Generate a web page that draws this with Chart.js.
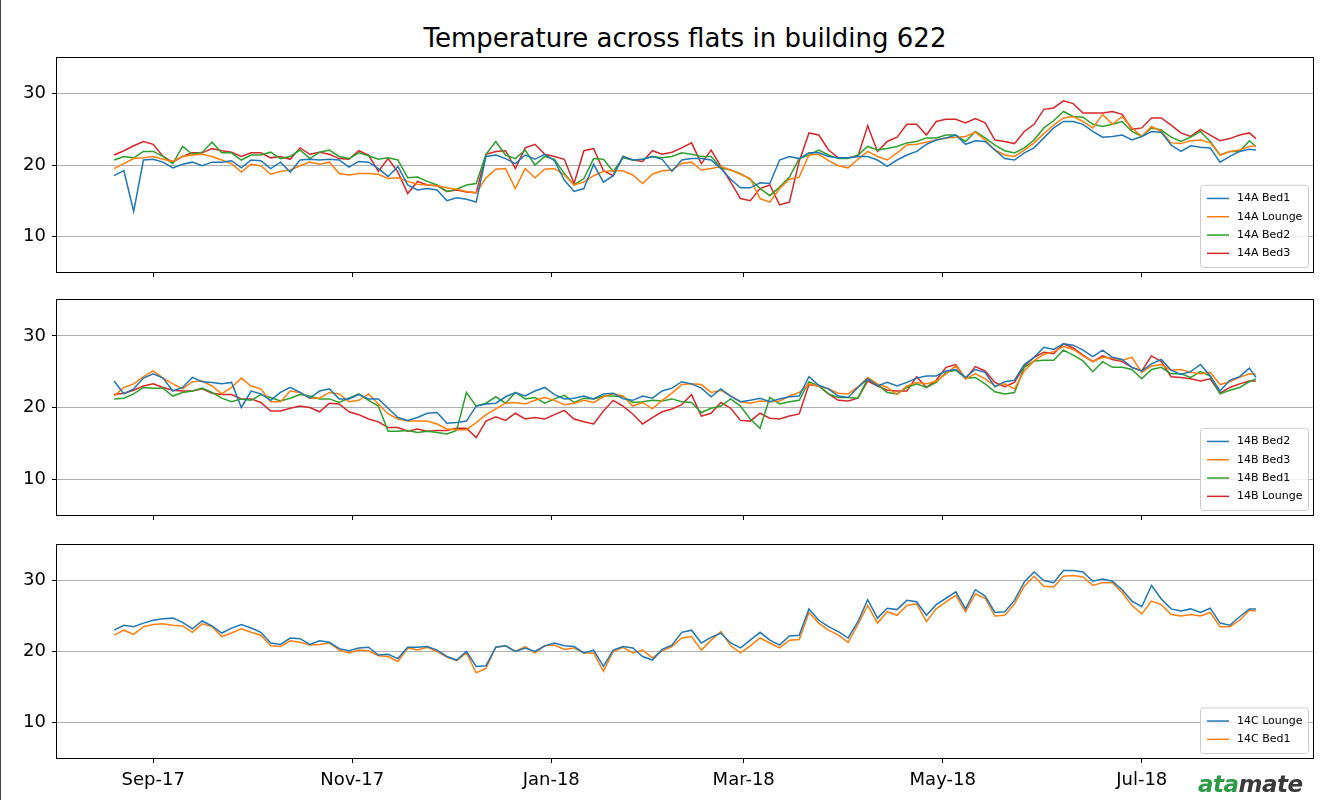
<!DOCTYPE html>
<html>
<head>
<meta charset="utf-8">
<script src="https://cdn.jsdelivr.net/npm/chart.js@4.4.0/dist/chart.umd.min.js"></script>
<style>
  body { margin: 0; background: #fff; }
  #wrap { position: relative; width: 1330px; height: 802px; background: #fff; overflow: hidden; font-family: "DejaVu Sans", sans-serif; }
  #wrap canvas { position: absolute; left: 0; }
  #edge { position: absolute; left: 0; top: 0; width: 1px; height: 800px; background: #444; }
  #title { position: absolute; left: 0; top: 23px; width: 1370px; text-align: center; font-size: 26px; line-height: 30px; color: #000; }
  #logo { position: absolute; left: 1198px; top: 771px; font-family: "DejaVu Sans", sans-serif; font-weight: bold; font-style: italic; font-size: 23px; letter-spacing: -0.5px; z-index: 5; }
  #logo .a { color: #2e9a45; }
  #logo .b { color: #3a3a3a; }
</style>
</head>
<body>
<div id="wrap">
  <div id="edge"></div>
  <div id="title">Temperature across flats in building 622</div>
  <canvas id="c1" width="1330" height="240" style="top:50px"></canvas>
  <canvas id="c2" width="1330" height="243" style="top:292px"></canvas>
  <canvas id="c3" width="1330" height="265" style="top:537px"></canvas>
  <div id="logo"><span class="a">ata</span><span class="b">mate</span></div>
</div>
<script>
// days since 2017-08-20
var days = [0,3,6,9,12,15,18,21,24,27,30,33,36,39,42,45,48,51,54,57,60,63,66,69,72,75,78,81,84,87,
  90,93,96,99,102,105,108,111,114,117,120,123,126,129,132,135,138,141,144,147,150,153,156,159,162,165,168,171,174,
  177,180,183,186,189,192,195,198,201,204,207,210,213,216,219,222,225,228,231,234,237,240,243,246,249,252,255,258,261,264,
  267,270,273,276,279,282,285,288,291,294,297,300,303,306,309,312,315,318,321,324,327,330,333,336,339,342,345,348,350];

// 1st of the month positions for the x axis
var tickDays = [12, 73, 134, 193, 254, 315];
var tickLabels = ['Sep-17', 'Nov-17', 'Jan-18', 'Mar-18', 'May-18', 'Jul-18'];
var yTicks = [10, 20, 30];

// flat 14A
var a14Bed1 = [18.5,19.2,13.5,20.7,20.8,20.4,19.6,20.1,20.4,19.9,20.4,20.4,20.6,19.6,20.7,20.6,19.5,20.4,19.0,20.7,20.8,20.7,20.8,20.7,19.7,20.5,20.4,19.5,18.4,19.8,
  17.2,16.5,16.7,16.5,15.0,15.4,15.2,14.8,21.2,21.4,20.9,20.2,21.4,20.8,21.5,20.6,17.9,16.3,16.7,20.1,17.6,18.5,21.2,20.7,20.8,21.2,20.8,19.1,20.7,
  20.9,20.9,20.7,19.5,18.0,16.8,16.8,17.5,17.4,20.7,21.2,20.9,21.7,21.7,21.2,21.0,21.0,21.2,21.2,20.7,19.8,20.7,21.4,21.9,22.9,23.5,23.8,24.2,22.9,23.4,
  23.3,22.1,20.9,20.7,21.7,22.4,23.8,25.2,26.1,26.1,25.7,24.7,23.9,24.0,24.2,23.5,24.0,24.7,24.6,22.8,21.9,22.7,22.5,22.4,20.4,21.2,21.9,22.2,22.1];
var a14Lounge = [19.5,20.2,20.9,21.0,21.2,20.8,20.5,21.2,21.4,21.5,21.2,20.7,20.2,19.0,20.1,19.9,18.7,19.1,19.3,19.9,20.4,20.1,20.4,18.8,18.6,18.8,18.8,18.7,18.1,18.2,
  17.7,17.3,17.2,17.1,16.8,16.6,16.3,16.1,18.2,19.4,19.5,16.7,19.5,18.2,19.4,19.5,18.6,17.2,17.6,18.5,19.1,19.2,19.2,18.6,17.4,18.7,19.2,19.3,20.2,
  20.4,19.3,19.5,19.8,19.3,18.7,18.1,15.3,14.8,16.7,18.0,18.3,21.4,21.5,20.6,19.9,19.6,20.8,21.9,21.2,20.7,21.7,22.8,22.9,23.2,23.5,23.8,23.9,24.0,24.6,
  23.5,22.1,21.4,21.2,22.1,23.1,24.4,25.6,26.6,26.8,26.1,25.2,27.1,25.7,26.8,25.2,24.0,25.4,24.7,23.1,23.0,23.4,23.5,23.1,21.4,21.9,22.1,22.6,22.7];
var a14Bed2 = [20.7,21.2,21.0,21.9,21.9,21.2,20.2,22.6,21.5,21.8,23.2,21.7,21.7,20.7,21.4,21.4,21.8,20.9,21.2,22.1,20.9,21.8,22.1,21.2,20.9,21.7,21.3,20.8,21.0,20.7,
  18.2,18.3,17.7,17.2,16.3,16.6,17.2,17.4,21.5,23.3,21.4,20.9,22.1,20.0,21.2,20.8,18.8,17.2,18.1,20.9,20.8,19.1,21.0,20.7,20.8,21.2,21.0,21.2,21.7,
  21.5,21.2,21.2,19.6,19.3,18.8,18.0,16.7,15.7,16.9,18.3,20.9,21.4,22.1,21.4,20.9,20.9,21.4,22.6,22.1,22.3,22.6,23.1,23.3,23.8,23.8,24.2,24.2,23.3,24.7,
  23.8,22.8,22.0,21.7,22.4,23.5,25.2,26.2,27.5,26.8,26.7,25.7,25.4,25.7,26.1,24.7,24.0,25.2,24.9,23.9,23.3,23.9,24.7,23.3,21.4,21.9,21.9,23.4,22.6];
var a14Bed3 = [21.4,22.0,22.7,23.3,22.9,21.2,20.4,21.2,21.7,21.7,22.3,22.0,21.8,21.2,21.7,21.7,21.0,21.2,20.8,22.4,21.5,21.8,21.5,20.9,20.8,22.0,21.4,19.1,20.9,19.0,
  16.0,17.7,17.2,17.1,16.3,16.5,16.2,16.1,21.5,21.9,22.0,19.5,22.4,22.9,21.5,21.2,20.8,17.4,22.0,22.3,19.2,18.5,21.2,20.7,20.5,22.0,21.5,21.8,22.4,
  23.1,20.2,22.1,19.8,17.6,15.3,15.0,16.7,17.2,14.4,14.8,20.5,24.5,24.2,22.1,21.0,21.0,21.2,25.5,21.9,23.3,23.9,25.7,25.7,24.2,26.1,26.4,26.4,25.9,26.5,
  25.9,23.5,23.3,23.0,24.7,25.7,27.8,28.0,29.0,28.6,27.3,27.3,27.3,27.5,27.1,25.0,25.2,26.6,26.6,25.6,24.5,24.0,25.0,24.2,23.4,23.7,24.2,24.5,23.7];

// flat 14B
var b14Bed2 = [23.7,21.9,22.6,24.1,24.7,24.1,22.3,22.8,24.2,23.6,23.5,23.3,23.5,20.0,22.3,21.9,21.0,22.1,22.8,22.1,21.3,22.3,22.6,21.2,21.2,21.8,21.2,21.2,19.9,18.6,
  18.2,18.6,19.2,19.3,17.8,17.9,18.1,20.2,20.5,20.6,21.5,22.1,21.6,22.3,22.8,21.8,21.2,21.3,21.6,21.2,21.9,22.0,21.2,21.0,21.6,21.3,22.3,22.7,23.6,
  23.3,22.7,21.5,22.6,21.6,20.8,21.0,21.3,20.8,21.2,21.5,21.6,24.3,23.1,22.6,21.6,21.4,22.8,24.0,23.0,23.5,23.0,23.5,24.1,24.4,24.4,25.1,25.3,24.2,25.3,
  24.9,22.9,23.6,23.8,26.0,27.0,28.4,28.1,28.9,28.7,28.0,27.1,28.0,27.0,26.7,25.6,25.1,26.1,26.7,25.2,24.6,25.0,26.0,24.4,22.3,23.8,24.3,25.5,24.2];
var b14Bed3 = [21.6,22.8,23.3,24.3,25.1,24.1,23.3,22.6,23.6,23.7,23.0,21.9,22.8,24.1,23.0,22.6,20.8,20.8,22.3,22.1,21.3,21.3,22.1,21.9,20.8,21.0,21.9,20.5,19.1,18.4,
  18.1,18.1,18.1,17.7,17.0,16.9,16.9,17.9,19.0,19.8,20.6,20.7,20.5,21.0,21.4,21.0,20.4,20.6,21.0,20.7,21.5,21.9,21.6,20.2,20.7,19.8,21.0,22.0,23.2,
  23.3,23.2,22.1,22.4,21.6,20.8,20.6,20.9,20.8,20.9,21.6,22.1,23.3,23.0,22.6,22.0,21.9,22.9,24.2,23.3,22.8,21.8,23.0,23.5,23.3,23.7,24.7,25.8,24.0,24.7,
  24.0,23.0,23.3,22.6,25.1,26.5,27.4,27.8,28.5,28.1,27.2,26.4,27.0,26.9,26.6,27.0,24.9,25.8,26.0,25.2,25.3,24.9,24.7,24.9,23.2,23.6,24.2,24.7,24.6];
var b14Bed1 = [21.2,21.3,21.9,22.8,22.7,22.7,21.6,22.1,22.3,22.7,22.1,21.3,20.8,21.2,21.0,21.8,21.4,20.9,21.3,21.8,21.6,21.2,21.2,20.7,21.3,21.9,21.0,20.2,16.7,16.7,
  16.8,16.5,16.7,16.5,16.3,16.8,22.1,20.2,20.6,21.5,20.6,22.1,21.2,21.4,20.6,21.2,21.7,20.7,21.3,21.2,21.6,21.6,21.5,20.7,20.8,21.0,20.9,21.2,20.8,
  20.7,19.3,19.9,20.2,21.2,20.2,18.4,17.1,21.4,20.5,20.8,21.0,23.6,23.0,21.9,21.4,21.4,21.3,24.0,23.2,22.1,21.9,22.8,23.3,22.8,23.5,24.9,25.2,24.1,24.2,
  23.3,22.2,21.9,22.1,25.6,26.5,26.6,26.6,28.0,27.3,26.5,25.0,26.4,25.6,25.6,25.3,24.0,25.3,25.6,24.7,24.7,24.2,25.0,24.4,21.9,22.4,22.8,23.6,24.0];
var b14Lounge = [21.8,22.0,22.4,23.0,23.3,22.8,22.4,22.3,22.3,22.6,22.0,21.8,21.8,21.2,21.2,20.7,19.5,19.5,19.9,20.2,20.0,19.4,20.6,20.5,19.4,19.0,18.4,18.0,17.2,17.2,
  16.7,17.0,16.7,16.8,16.8,17.1,17.1,15.8,18.1,18.7,18.2,19.2,18.4,18.6,18.4,19.0,19.6,18.4,18.0,17.7,19.5,21.0,20.2,19.1,17.7,18.6,19.4,19.8,20.4,
  21.8,18.8,19.2,20.7,19.9,18.2,18.1,19.2,18.5,18.4,18.8,19.1,23.2,23.0,21.9,21.0,20.9,21.3,23.7,23.0,22.4,22.3,22.3,24.3,22.8,23.8,25.6,26.0,24.0,25.7,
  25.1,23.5,22.9,23.5,25.8,27.0,27.7,27.5,28.9,28.3,27.3,26.4,27.2,26.7,26.4,25.6,25.1,27.2,26.4,24.3,24.2,24.0,23.7,24.0,22.0,22.8,23.3,23.7,23.7];

// flat 14C
var c14Lounge = [23.0,23.7,23.5,24.0,24.4,24.6,24.7,24.1,23.2,24.3,23.6,22.6,23.3,23.8,23.3,22.7,21.2,21.0,21.9,21.8,21.0,21.5,21.3,20.4,20.1,20.5,20.6,19.5,19.6,19.0,
  20.6,20.6,20.7,20.2,19.3,18.8,20.0,17.9,18.0,20.6,20.8,20.0,20.5,20.0,20.8,21.2,20.8,20.7,19.8,20.2,17.9,20.2,20.7,20.5,19.3,18.8,20.3,20.9,22.7,
  23.0,21.2,22.0,22.6,21.2,20.5,21.6,22.7,21.6,20.9,22.2,22.3,26.0,24.4,23.5,22.8,21.9,24.2,27.3,24.7,26.1,25.9,27.2,27.0,25.1,26.6,27.5,28.4,26.0,28.7,
  27.8,25.5,25.6,27.2,29.8,31.2,30.0,29.7,31.4,31.4,31.2,29.9,30.2,29.9,28.7,27.1,26.3,29.3,27.4,26.0,25.7,26.0,25.5,26.1,24.0,23.7,24.9,26.0,26.0];
var c14Bed1 = [22.3,23.0,22.4,23.5,23.8,23.9,23.7,23.6,22.7,23.9,23.5,22.1,22.6,23.2,22.7,22.3,20.8,20.7,21.5,21.3,20.9,21.0,21.2,20.2,19.8,20.2,20.1,19.4,19.3,18.6,
  20.5,20.2,20.6,20.0,19.2,18.7,19.8,17.0,17.6,20.6,20.8,20.0,20.7,19.8,20.8,20.9,20.3,20.5,19.8,19.8,17.2,20.0,20.6,19.8,20.2,19.1,20.1,20.7,21.9,
  22.1,20.2,21.6,22.8,20.8,19.8,20.8,21.9,21.2,20.5,21.6,21.7,25.5,24.0,23.0,22.3,21.3,23.8,26.5,24.0,25.6,25.1,26.5,26.7,24.2,26.0,27.0,27.9,25.6,28.1,
  27.5,25.0,25.1,26.7,29.2,30.6,29.2,29.1,30.6,30.7,30.5,29.3,29.7,29.7,28.3,26.5,25.3,27.1,26.6,25.2,25.0,25.2,25.0,25.5,23.5,23.5,24.4,25.8,25.7];

var blue = '#1f77b4', orange = '#ff7f0e', green = '#2ca02c', red = '#d62728';

function series(label, values, colour) {
  return {
    label: label,
    data: days.map(function (d, i) { return { x: d, y: values[i] }; }),
    borderColor: colour,
    backgroundColor: colour,
    borderWidth: 1.5,
    pointRadius: 0,
    tension: 0,
    fill: false
  };
}

// black box round the plot area (matplotlib spines)
var framePlugin = {
  id: 'frame',
  afterDatasetsDraw: function (chart) {
    var ctx = chart.ctx, a = chart.chartArea;
    ctx.save();
    ctx.strokeStyle = '#000';
    ctx.lineWidth = 1;
    ctx.strokeRect(Math.round(a.left) - 0.5, Math.round(a.top) - 0.5, Math.round(a.right - a.left) + 1, Math.round(a.bottom - a.top) + 1);
    ctx.restore();
  }
};

// legend in the lower right corner, inside the axes
var boxLegend = {
  id: 'boxLegend',
  afterDraw: function (chart) {
    var ctx = chart.ctx, a = chart.chartArea;
    var sets = chart.data.datasets;
    var rowH = 18.3, w = 108, h = sets.length * rowH + 9;
    var x = a.right - 5 - w, y = a.bottom - 5 - h;
    ctx.save();
    ctx.beginPath();
    ctx.roundRect(x + 0.5, y + 0.5, w, h, 3);
    ctx.fillStyle = 'rgba(255,255,255,0.8)';
    ctx.fill();
    ctx.strokeStyle = '#cccccc';
    ctx.lineWidth = 1;
    ctx.stroke();
    ctx.font = '11px "DejaVu Sans"';
    ctx.textBaseline = 'middle';
    sets.forEach(function (s, i) {
      var cy = y + 4.5 + rowH * (i + 0.5);
      ctx.strokeStyle = s.borderColor;
      ctx.lineWidth = 1.5;
      ctx.beginPath();
      ctx.moveTo(x + 7, cy);
      ctx.lineTo(x + 29, cy);
      ctx.stroke();
      ctx.fillStyle = '#000';
      ctx.fillText(s.label, x + 37, cy);
    });
    ctx.restore();
  }
};

function makeChart(id, sets, showLabels, xHeight) {
  return new Chart(document.getElementById(id), {
    type: 'line',
    data: { datasets: sets },
    options: {
      responsive: false,
      animation: false,
      layout: { padding: { top: 8, right: 17, left: 0, bottom: 0 } },
      plugins: { legend: { display: false }, tooltip: { enabled: false } },
      scales: {
        x: {
          type: 'linear',
          min: -17.5,
          max: 367.5,
          afterBuildTicks: function (s) { s.ticks = tickDays.map(function (v) { return { value: v }; }); },
          afterFit: function (s) { s.height = xHeight; s.paddingLeft = 0; s.paddingRight = 0; },
          grid: { drawOnChartArea: false, tickLength: 5, tickColor: '#000' },
          border: { display: false },
          ticks: {
            display: showLabels,
            color: '#000',
            font: { family: 'DejaVu Sans', size: 18 },
            padding: 7,
            maxRotation: 0,
            autoSkip: false,
            callback: function (v, i) { return tickLabels[i]; }
          }
        },
        y: {
          min: 5,
          max: 35,
          afterBuildTicks: function (s) { s.ticks = yTicks.map(function (v) { return { value: v }; }); },
          afterFit: function (s) { s.width = 57; s.paddingTop = 0; s.paddingBottom = 0; },
          grid: { color: '#b0b0b0', lineWidth: 1, tickColor: '#000', tickLength: 5 },
          border: { display: false },
          ticks: { color: '#000', font: { family: 'DejaVu Sans', size: 18 }, padding: 6 }
        }
      }
    },
    plugins: [framePlugin, boxLegend]
  });
}

makeChart('c1', [
  series('14A Bed1', a14Bed1, blue),
  series('14A Lounge', a14Lounge, orange),
  series('14A Bed2', a14Bed2, green),
  series('14A Bed3', a14Bed3, red)
], false, 18);

makeChart('c2', [
  series('14B Bed2', b14Bed2, blue),
  series('14B Bed3', b14Bed3, orange),
  series('14B Bed1', b14Bed1, green),
  series('14B Lounge', b14Lounge, red)
], false, 20);

makeChart('c3', [
  series('14C Lounge', c14Lounge, blue),
  series('14C Bed1', c14Bed1, orange)
], true, 44);
</script>
</body>
</html>
